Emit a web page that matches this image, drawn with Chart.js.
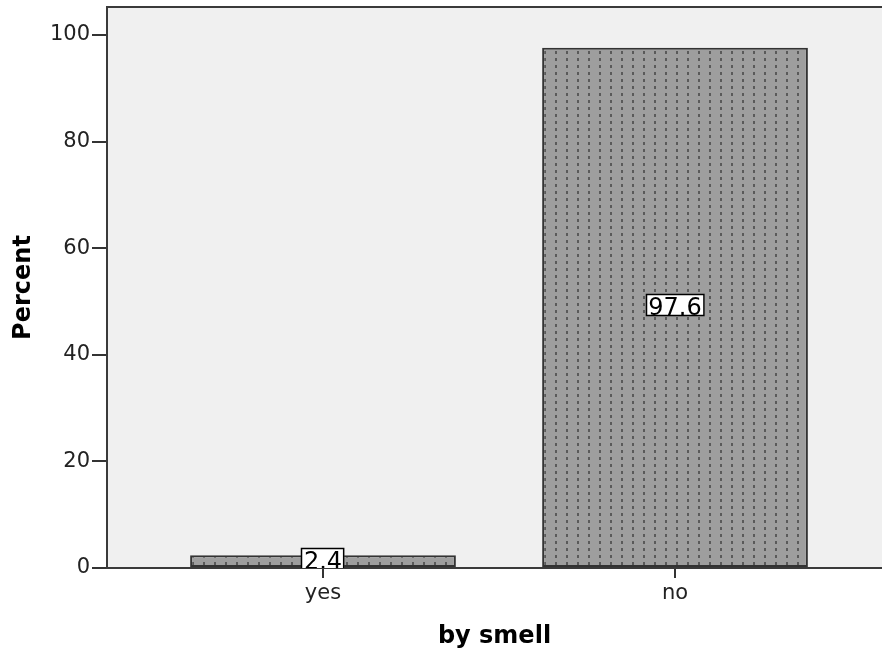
<!DOCTYPE html>
<html><head><meta charset="utf-8">
<script src="https://cdn.jsdelivr.net/npm/chart.js@4"></script>
<style>html,body{margin:0;padding:0;background:#fff;overflow:hidden}</style>
</head><body>
<canvas id="c" width="882" height="651"></canvas>
<script>
// ---- data ----
const categories = ['yes', 'no'];
const percents = [2.4, 97.6];
const yTicks = [0, 20, 40, 60, 80, 100];
const xTitle = 'by smell';
const yTitle = 'Percent';

const FONT = "'DejaVu Sans', sans-serif";

function makePattern() {
  const p = document.createElement('canvas');
  p.width = 11; p.height = 7;
  const g = p.getContext('2d');
  g.fillStyle = '#9e9e9e';
  g.fillRect(0, 0, 11, 7);
  g.fillStyle = '#5a5a5a';
  g.fillRect(5, 2, 2, 3);
  return document.getElementById('c').getContext('2d').createPattern(p, 'repeat');
}

const plotDecor = {
  id: 'plotDecor',
  beforeDraw(chart) {
    const {ctx, chartArea: a} = chart;
    ctx.save();
    ctx.fillStyle = '#f0f0f0';
    ctx.fillRect(a.left, a.top, a.right - a.left, a.bottom - a.top);
    ctx.restore();
  },
  afterDatasetsDraw(chart) {
    const {ctx, chartArea: a} = chart;
    const meta = chart.getDatasetMeta(0);
    ctx.save();
    ctx.beginPath();
    ctx.rect(a.left, a.top, a.right - a.left, a.bottom - a.top);
    ctx.clip();
    ctx.font = '24px ' + FONT;
    meta.data.forEach((el, i) => {
      const txt = String(percents[i]);
      const tw = ctx.measureText(txt).width;
      const mid = (el.y + el.base) / 2;
      const w = tw + 5, h = 22;
      const x0 = Math.round(el.x - w / 2), y0 = Math.round(mid - 13);
      ctx.fillStyle = '#ffffff';
      ctx.fillRect(x0, y0, w, h);
      ctx.strokeStyle = '#000';
      ctx.lineWidth = 1.5;
      ctx.strokeRect(x0 + 0.5, y0 + 0.5, w - 1, h - 1);
      ctx.fillStyle = '#000';
      ctx.textAlign = 'center';
      ctx.textBaseline = 'alphabetic';
      ctx.fillText(txt, el.x, mid + 8);
    });
    ctx.restore();
    // top border
    ctx.save();
    ctx.strokeStyle = '#3a3a3a';
    ctx.lineWidth = 2;
    ctx.beginPath();
    ctx.moveTo(a.left - 1, a.top);
    ctx.lineTo(a.right, a.top);
    ctx.stroke();
    ctx.restore();
  }
};

new Chart(document.getElementById('c'), {
  type: 'bar',
  data: {
    datasets: [{
      data: categories.map((c, i) => ({x: i, y: percents[i]})),
      backgroundColor: makePattern(),
      borderColor: '#333333',
      borderWidth: 2,
      borderSkipped: false,
      categoryPercentage: 1,
      barPercentage: 0.755
    }]
  },
  options: {
    responsive: false,
    animation: false,
    devicePixelRatio: 1,
    layout: {padding: {left: 0, top: 7, right: 0, bottom: 0}},
    plugins: {legend: {display: false}, tooltip: {enabled: false}},
    scales: {
      x: {
        type: 'linear',
        min: -0.6136,
        max: 1.588,
        offset: false,
        grid: {offset: false, drawOnChartArea: false, drawTicks: true, tickLength: 10, tickColor: '#333', lineWidth: 2},
        border: {display: true, color: '#3a3a3a', width: 2},
        afterBuildTicks: s => { s.ticks = categories.map((c, i) => ({value: i})); },
        ticks: {
          callback: v => categories[Math.round(v)],
          font: {family: FONT, size: 21},
          color: '#222',
          padding: 3,
          maxRotation: 0,
          autoSkip: false
        },
        title: {display: true, text: xTitle, font: {family: FONT, size: 24, weight: 'bold'}, color: '#000', padding: {top: 0, bottom: 0}},
        afterFit: s => { s.height = 83; s.paddingLeft = 0; s.paddingRight = 0; }
      },
      y: {
        min: 0,
        max: 105.25,
        grid: {drawOnChartArea: false, drawTicks: true, tickLength: 15, tickColor: '#333', lineWidth: 2},
        border: {display: true, color: '#3a3a3a', width: 2},
        afterBuildTicks: s => { s.ticks = yTicks.map(v => ({value: v})); },
        ticks: {
          font: {family: FONT, size: 21},
          color: '#222',
          padding: 2
        },
        title: {display: true, text: yTitle, font: {family: FONT, size: 24, weight: 'bold'}, color: '#000', padding: {top: 9, bottom: 0}},
        afterFit: s => { s.width = 107; s.paddingTop = 0; s.paddingBottom = 0; }
      }
    }
  },
  plugins: [plotDecor]
});
</script>
</body></html>
